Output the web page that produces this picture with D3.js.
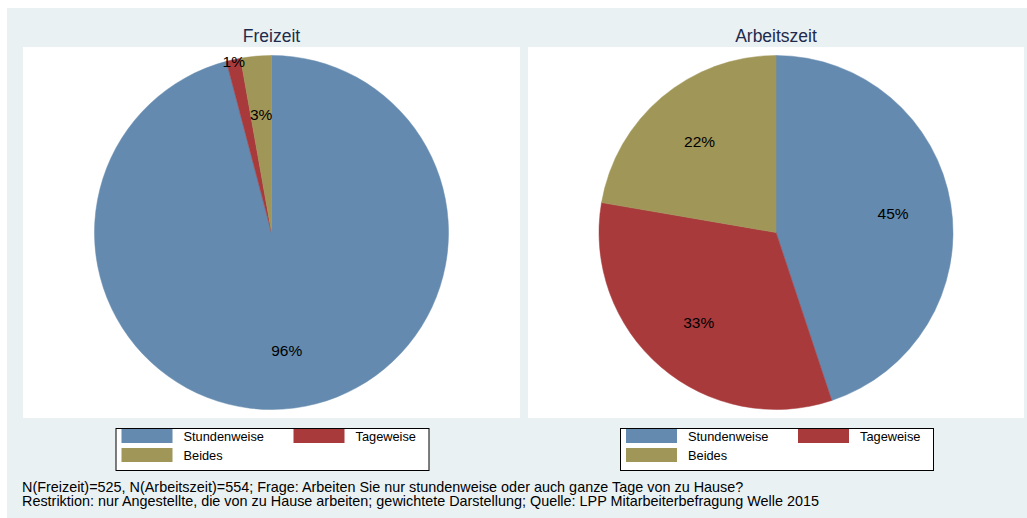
<!DOCTYPE html>
<html>
<head>
<meta charset="utf-8">
<script src="https://cdn.jsdelivr.net/npm/d3@7"></script>
<style>
  body { margin: 0; background: #fff; }
  svg { display: block; font-family: "Liberation Sans", Arial, sans-serif; }
</style>
</head>
<body>
<script>
// data
var categories = ["Stundenweise", "Tageweise", "Beides"];
var panelTitles = ["Freizeit", "Arbeitszeit"];
var freizeit = [95.9, 1.3, 2.8];
var arbeitszeit = [44.9, 32.8, 22.3];
var footnotes = [
  "N(Freizeit)=525, N(Arbeitszeit)=554; Frage: Arbeiten Sie nur stundenweise oder auch ganze Tage von zu Hause?",
  "Restriktion: nur Angestellte, die von zu Hause arbeiten; gewichtete Darstellung; Quelle: LPP Mitarbeiterbefragung Welle 2015"
];

var colors = ["#648aaf", "#a83a3c", "#a09658"];
var w = 1027, h = 518;

var svg = d3.select("body").append("svg")
  .attr("width", w)
  .attr("height", h);

svg.append("rect")
  .attr("x", 7).attr("y", 8)
  .attr("width", w - 7).attr("height", h - 8)
  .attr("fill", "#eaf1f3");

var color = d3.scaleOrdinal().domain(categories).range(colors);
var pie = d3.pie().sort(null).value(function(d) { return d.value; });
var fmt = d3.format(".0f");

var panels = [
  { title: panelTitles[0], values: freizeit, x: 23, width: 497 },
  { title: panelTitles[1], values: arbeitszeit, x: 528, width: 496 }
];

var plotTop = 47, plotH = 371, radius = 177;

panels.forEach(function(p) {
  var cx = p.x + p.width / 2,
    cy = plotTop + plotH / 2;

  svg.append("rect")
    .attr("x", p.x).attr("y", plotTop)
    .attr("width", p.width).attr("height", plotH)
    .attr("fill", "#fff");

  svg.append("text")
    .attr("x", cx).attr("y", 42)
    .attr("text-anchor", "middle")
    .attr("font-size", 17.5)
    .attr("fill", "#1e2b4c")
    .text(p.title);

  var data = categories.map(function(c, i) { return { cat: c, value: p.values[i] }; });
  var arcs = pie(data);
  var arc = d3.arc().innerRadius(0).outerRadius(radius);

  var g = svg.append("g").attr("transform", "translate(" + cx + "," + cy + ")");
  g.selectAll("path")
    .data(arcs)
    .enter().append("path")
    .attr("d", arc)
    .attr("fill", function(d) { return color(d.data.cat); })
    .attr("stroke", function(d) { return color(d.data.cat); })
    .attr("stroke-width", 0.5);

  g.selectAll("text")
    .data(arcs)
    .enter().append("text")
    .attr("transform", function(d) {
      // small slices get their label pushed out to the rim
      var r = d.data.value < 2 ? radius * 0.99 : radius * 0.67;
      return "translate(" + d3.arc().innerRadius(r).outerRadius(r).centroid(d) + ")";
    })
    .attr("dy", "0.35em")
    .attr("text-anchor", "middle")
    .attr("font-size", 15.5)
    .attr("fill", "#000")
    .text(function(d) { return fmt(d.data.value) + "%"; });

  /* legend */
  var lx = cx - 156, ly = 428;
  svg.append("rect")
    .attr("x", lx + 0.5).attr("y", ly + 0.5)
    .attr("width", 313).attr("height", 42)
    .attr("fill", "#fff")
    .attr("stroke", "#000")
    .attr("stroke-width", 1);

  var items = svg.append("g").selectAll("g")
    .data(categories)
    .enter().append("g")
    .attr("transform", function(d, i) {
      return "translate(" + (lx + 6 + (i % 2) * 172) + "," + (ly + 1 + Math.floor(i / 2) * 19) + ")";
    });
  items.append("rect")
    .attr("width", 51).attr("height", 14)
    .attr("fill", function(d) { return color(d); });
  items.append("text")
    .attr("x", 62).attr("y", 12)
    .attr("font-size", 12.8)
    .attr("fill", "#000")
    .text(function(d) { return d; });
});

svg.selectAll(".note")
  .data(footnotes)
  .enter().append("text")
  .attr("class", "note")
  .attr("x", 22)
  .attr("y", function(d, i) { return 492 + i * 14; })
  .attr("font-size", 14.4)
  .attr("fill", "#000")
  .text(function(d) { return d; });
</script>
</body>
</html>
